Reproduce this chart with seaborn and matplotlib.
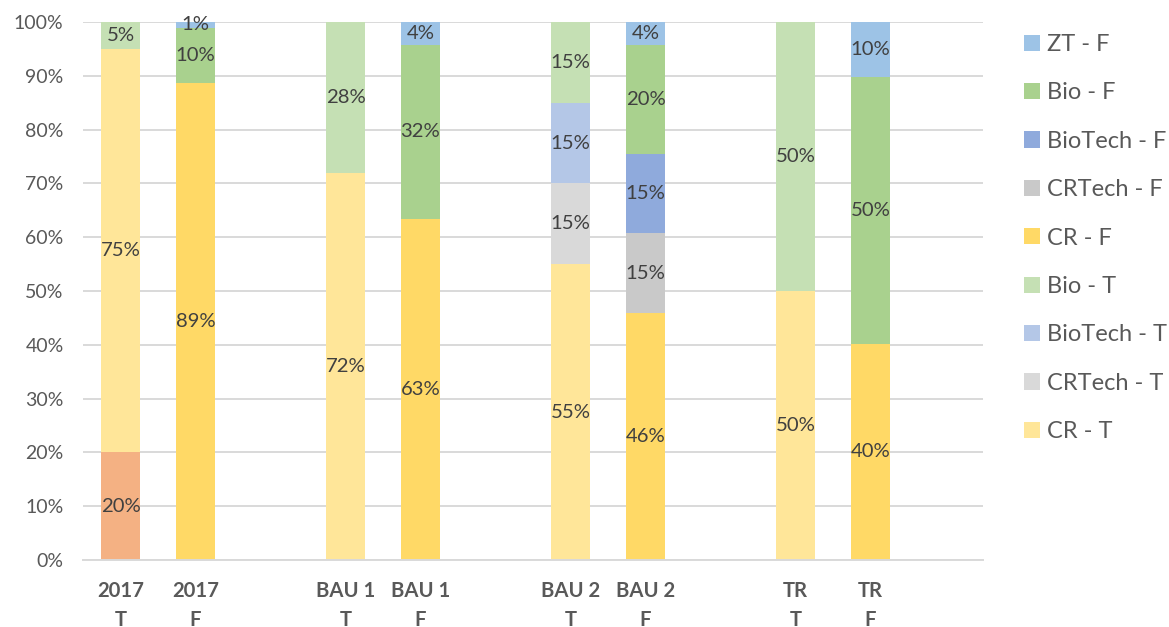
import matplotlib
matplotlib.use("Agg")
import matplotlib.pyplot as plt
from matplotlib.patches import Patch
from matplotlib.ticker import FuncFormatter, MultipleLocator
import seaborn as sns
import pandas as pd
import numpy as np

# Bars (scenario / part) in drawing order
bars = ["2017\nT", "2017\nF", "BAU 1\nT", "BAU 1\nF",
        "BAU 2\nT", "BAU 2\nF", "TR\nT", "TR\nF"]

# Stacked shares (%) per bar, listed from the bottom of the stack upward
base_2017 = [20, 0, 0, 0, 0, 0, 0, 0]
cr_t = [75, 0, 72, 0, 55, 0, 50, 0]
crtech_t = [0, 0, 0, 0, 15, 0, 0, 0]
biotech_t = [0, 0, 0, 0, 15, 0, 0, 0]
bio_t = [5, 0, 28, 0, 15, 0, 50, 0]
cr_f = [0, 88.6, 0, 63.4, 0, 45.9, 0, 40.2]
crtech_f = [0, 0, 0, 0, 0, 14.8, 0, 0]
biotech_f = [0, 0, 0, 0, 0, 14.8, 0, 0]
bio_f = [0, 10.3, 0, 32.4, 0, 20.3, 0, 49.6]
zt_f = [0, 1.1, 0, 4.2, 0, 4.2, 0, 10.2]

series_names = ["_base", "CR - T", "CRTech - T", "BioTech - T", "Bio - T",
                "CR - F", "CRTech - F", "BioTech - F", "Bio - F", "ZT - F"]
series_values = [base_2017, cr_t, crtech_t, biotech_t, bio_t,
                 cr_f, crtech_f, biotech_f, bio_f, zt_f]
series_colors = ["#F4B183", "#FFE699", "#D9D9D9", "#B4C7E7", "#C5E0B4",
                 "#FFD966", "#C9C9C9", "#8FAADC", "#A9D18E", "#9DC3E6"]

# Category slots, with empty spacer slots between scenario pairs
order = [bars[0], bars[1], " ", bars[2], bars[3], "  ",
         bars[4], bars[5], "   ", bars[6], bars[7], "    "]

rows = []
for name, vals in zip(series_names, series_values):
    for b, v in zip(bars, vals):
        rows.append({"bar": b, "series": name, "value": v})
df = pd.DataFrame(rows)
df["series"] = pd.Categorical(df["series"], categories=series_names, ordered=True)
df = df.sort_values(["bar", "series"])
df["top"] = df.groupby("bar")["value"].cumsum()
df["mid"] = df["top"] - df["value"] / 2

sns.set_theme(style="white")
plt.rcParams["font.family"] = ["Lato", "DejaVu Sans"]

fig = plt.figure(figsize=(11.69, 6.27), dpi=100)
ax = fig.add_axes([83 / 1169, 1 - 560 / 627, 900 / 1169, 538 / 627])

# Draw cumulative tops from the highest layer down so each lower layer covers the rest
for name, color in reversed(list(zip(series_names, series_colors))):
    sub = df[(df["series"] == name) & (df["value"] > 0)]
    if sub.empty:
        continue
    sns.barplot(data=sub, x="bar", y="top", order=order, color=color,
                saturation=1, width=0.52, errorbar=None, linewidth=0, ax=ax)

# Value labels at the middle of each segment
pos = {b: order.index(b) for b in bars}
for _, r in df[df["value"] > 0].iterrows():
    ax.text(pos[r["bar"]], r["mid"], f"{r['value']:.0f}%", ha="center", va="center",
            fontsize=14.6, color="#404040")

ax.set_ylim(0, 100)
ax.set_xlim(-0.5, len(order) - 0.5)
ax.yaxis.set_major_locator(MultipleLocator(10))
ax.yaxis.set_major_formatter(FuncFormatter(lambda v, p: f"{v:.0f}%"))
ax.grid(axis="y", color="#D9D9D9", linewidth=1.4)
ax.set_axisbelow(True)
for s in ["left", "right", "top"]:
    ax.spines[s].set_visible(False)
ax.spines["bottom"].set_color("#D9D9D9")
ax.spines["bottom"].set_linewidth(1.4)
ax.set_xlabel("")
ax.set_ylabel("")
ax.tick_params(axis="y", length=0, pad=14, labelsize=14, labelcolor="#595959")
ax.tick_params(axis="x", length=0, pad=15)
ax.set_xticks(range(len(order)))
ax.set_xticklabels(order, fontsize=14.6, fontweight="bold", color="#595959",
                   linespacing=1.6)

legend_names = [n for n in series_names if not n.startswith("_")][::-1]
legend_colors = [c for n, c in zip(series_names, series_colors) if not n.startswith("_")][::-1]
handles = [Patch(facecolor=c, edgecolor="none") for c in legend_colors]
leg = ax.legend(handles, legend_names, loc="upper left",
                bbox_to_anchor=(1024 / 1169, 1 - 34 / 627), bbox_transform=fig.transFigure,
                frameon=False, fontsize=17, handlelength=0.68, handleheight=0.68,
                handletextpad=0.3, labelspacing=1.16, borderpad=0, borderaxespad=0)
for t in leg.get_texts():
    t.set_color("#595959")

fig.savefig("out.png", dpi=100, facecolor="white")
